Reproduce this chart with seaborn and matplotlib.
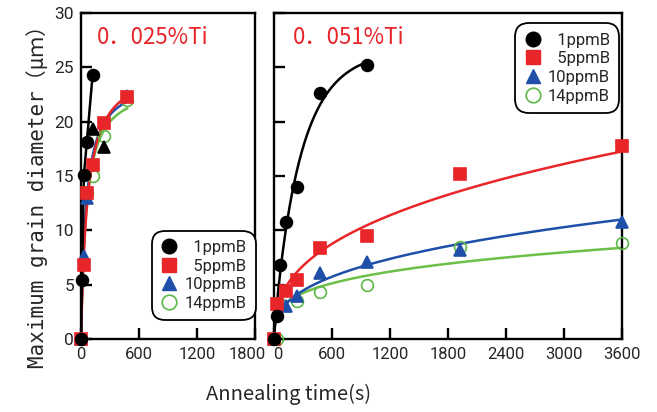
import numpy as np
import pandas as pd
import matplotlib
matplotlib.use("Agg")
import matplotlib.pyplot as plt
import matplotlib.transforms as mtransforms
from matplotlib.lines import Line2D
import seaborn as sns

# ---------------- data ----------------
labels = ["1ppmB", "5ppmB", "10ppmB", "14ppmB"]

# 0.025%Ti panel
l_t_1 = [0, 10, 30, 60, 120]
l_d_1 = [0, 5.4, 15.1, 18.1, 24.3]
l_t_5 = [0, 30, 60, 120, 240, 480]
l_d_5 = [0, 6.8, 13.4, 16.0, 19.9, 22.3]
l_t_10 = [0, 30, 60, 480]
l_d_10 = [0, 7.6, 13.0, 22.4]
l_t_10k = [120, 240]          # 10ppmB points drawn in black in the original
l_d_10k = [19.3, 17.7]
l_t_14 = [0, 60, 120, 240, 480]
l_d_14 = [0, 13.4, 15.0, 18.7, 22.0]

# 0.051%Ti panel
r_t_1 = [0, 30, 60, 120, 240, 480, 960]
r_d_1 = [0, 2.1, 6.8, 10.8, 14.0, 22.6, 25.2]
r_t_5 = [0, 30, 120, 240, 480, 960, 1920, 3600]
r_d_5 = [0, 3.2, 4.4, 5.4, 8.4, 9.5, 15.2, 17.8]
r_t_10 = [0, 120, 240, 480, 960, 1920, 3600]
r_d_10 = [0, 3.0, 4.0, 6.05, 7.1, 8.15, 10.8]
r_t_14 = [30, 60, 240, 480, 960, 1920, 3600]
r_d_14 = [0, 3.2, 3.5, 4.3, 5.0, 8.5, 8.8]

x_ticks_left = [0, 600, 1200, 1800]
x_ticks_right = [0, 600, 1200, 1800, 2400, 3000, 3600]
y_ticks = [0, 5, 10, 15, 20, 25, 30]

BLACK = "#000000"
RED = "#e8262a"
BLUE = "#1f4fa8"
GREEN = "#5cb848"
GREEN_LINE = "#6cbf48"

# ---------------- fitted trend lines (computed from the data) ----------------
def grid_fit(t, d, basis, params):
    t = np.asarray(t, float); d = np.asarray(d, float)
    best = None
    for p in params:
        f = basis(t, p)
        a = (f @ d) / (f @ f)
        err = ((a * f - d) ** 2).sum()
        if best is None or err < best[0]:
            best = (err, a, p)
    return best[1], best[2]

def hyper(t, b):
    return t / (b + t)

def weibull(t, p):
    tau, k = p
    return 1 - np.exp(-(t / tau) ** k)

def power_fit(t, d):
    t = np.asarray(t, float); d = np.asarray(d, float)
    m = (t > 0) & (d > 0)
    n, lna = np.polyfit(np.log(t[m]), np.log(d[m]), 1)
    return np.exp(lna), n

rows = []
def add_curve(panel, name, tt, yy):
    for a, b in zip(tt, yy):
        rows.append(dict(panel=panel, series=name, t=a, d=b))

# left panel curves
tl = np.linspace(0, 480, 300)
for name, t, d in [("5ppmB", l_t_5, l_d_5),
                   ("10ppmB", l_t_10 + l_t_10k, l_d_10 + l_d_10k),
                   ("14ppmB", l_t_14, l_d_14)]:
    a, b = grid_fit(t, d, hyper, np.linspace(5, 600, 600))
    add_curve("L", name, tl, a * hyper(tl, b))
add_curve("L", "1ppmB", l_t_1, l_d_1)

# right panel curves
tr = np.linspace(0, 3600, 800)
for name, t, d in [("5ppmB", r_t_5, r_d_5),
                   ("10ppmB", r_t_10, r_d_10),
                   ("14ppmB", r_t_14, r_d_14)]:
    a, n = power_fit(t, d)
    add_curve("R", name, tr, a * tr ** n)
tk = np.linspace(0, 960, 400)
grid = [(tau, k) for tau in np.linspace(60, 800, 150) for k in np.linspace(0.6, 2.0, 57)]
a, p = grid_fit(r_t_1, r_d_1, weibull, grid)
add_curve("R", "1ppmB", tk, a * weibull(tk, p))
curves = pd.DataFrame(rows)

# ---------------- figure ----------------
sns.set_theme(style="ticks")
plt.rcParams["font.family"] = ["Roboto", "DejaVu Sans"]
fig = plt.figure(figsize=(6.57, 4.12), dpi=100)
axL = fig.add_axes([81 / 657, 73 / 412, 174 / 657, 326 / 412])
axR = fig.add_axes([274 / 657, 73 / 412, 348 / 657, 326 / 412])

line_colors = {"1ppmB": BLACK, "5ppmB": RED, "10ppmB": BLUE, "14ppmB": GREEN_LINE}
for ax, panel in [(axL, "L"), (axR, "R")]:
    sub = curves[curves.panel == panel]
    for name in ["14ppmB", "10ppmB", "5ppmB", "1ppmB"]:
        s = sub[sub.series == name]
        sns.lineplot(x=s.t.values, y=s.d.values, ax=ax, color=line_colors[name],
                     lw=1.8, sort=False, estimator=None, zorder=2)

mk = dict(linestyle="none", clip_on=False, zorder=4)
def pts(ax, t, d, marker, fc, ec, ms):
    sns.lineplot(x=t, y=d, ax=ax, marker=marker, markersize=ms,
                 markerfacecolor=fc, markeredgecolor=ec, markeredgewidth=1.2,
                 sort=False, estimator=None, **mk)

for ax, series in [
    (axL, [(l_t_14, l_d_14, "o", "none", GREEN, 8.5),
           (l_t_10, l_d_10, "^", BLUE, BLUE, 8.5),
           (l_t_10k, l_d_10k, "^", BLACK, BLACK, 8.5),
           (l_t_5, l_d_5, "s", RED, RED, 8.5),
           (l_t_1, l_d_1, "o", BLACK, BLACK, 8.5)]),
    (axR, [(r_t_14, r_d_14, "o", "none", GREEN, 8.5),
           (r_t_10, r_d_10, "^", BLUE, BLUE, 8.5),
           (r_t_5, r_d_5, "s", RED, RED, 8.5),
           (r_t_1, r_d_1, "o", BLACK, BLACK, 8.5)])]:
    for t, d, m, fc, ec, ms in series:
        pts(ax, t, d, m, fc, ec, ms)

for ax, xt, xmax in [(axL, x_ticks_left, 1800), (axR, x_ticks_right, 3600)]:
    ax.set_xlim(0, xmax)
    ax.set_ylim(0, 30)
    ax.set_xticks(xt)
    ax.set_yticks(y_ticks)
    ax.set_xlabel("")
    ax.set_ylabel("")
    for sp in ax.spines.values():
        sp.set_visible(True)
        sp.set_linewidth(1.7)
        sp.set_color("black")
    ax.tick_params(direction="in", length=8, width=1.7, color="black")
    ax.tick_params(axis="x", labelsize=12, pad=6)
    ax.tick_params(axis="y", labelsize=12.5, pad=5)
    ax.set_facecolor("white")
axR.tick_params(axis="y", labelleft=False)

# the labels where the two panels meet are nudged apart, as in the original
lbl = axL.get_xticklabels()[-1]
lbl.set_transform(lbl.get_transform() +
                  mtransforms.ScaledTranslation(-8 / 100, 0, fig.dpi_scale_trans))
lbl = axR.get_xticklabels()[0]
lbl.set_transform(lbl.get_transform() +
                  mtransforms.ScaledTranslation(4 / 100, 0, fig.dpi_scale_trans))

jp = ["Noto Sans CJK JP", "DejaVu Sans"]
axL.text(0.09, 0.96, "0．025%Ti", transform=axL.transAxes, color=RED,
         fontsize=16, family=jp, va="top", ha="left")
axR.text(0.055, 0.96, "0．051%Ti", transform=axR.transAxes, color=RED,
         fontsize=16, family=jp, va="top", ha="left")

fig.text(289 / 657, 0.043, "Annealing time(s)", ha="center", va="center",
         fontsize=14.5, family=jp)
fig.text(37 / 657, 0.534, "Maximum grain diameter（μｍ）", ha="center", va="center",
         rotation=90, fontsize=15, family=["DejaVu Sans Mono", "Noto Sans CJK JP"])

handles = [
    Line2D([], [], ls="none", marker="o", ms=10.5, mfc=BLACK, mec=BLACK),
    Line2D([], [], ls="none", marker="s", ms=10.5, mfc=RED, mec=RED),
    Line2D([], [], ls="none", marker="^", ms=10.5, mfc=BLUE, mec=BLUE),
    Line2D([], [], ls="none", marker="o", ms=10.5, mfc="none", mec=GREEN, mew=1.2),
]
leg_labels = ["\u2007" + labels[0], "\u2007" + labels[1], labels[2], labels[3]]
for ax, loc, anchor in [(axL, "lower right", (0.985, 0.068)),
                        (axR, "upper right", (0.982, 0.958))]:
    leg = ax.legend(handles, leg_labels, loc=loc, bbox_to_anchor=anchor,
                    frameon=True, fancybox=True, framealpha=1, edgecolor="black",
                    fontsize=12, handlelength=1.0, handletextpad=0.4,
                    labelspacing=0.22, borderpad=0.35, borderaxespad=0)
    leg.get_frame().set_linewidth(1.3)
    leg.get_frame().set_boxstyle("round,pad=0.2,rounding_size=0.8")

fig.savefig("out.png", dpi=100)
